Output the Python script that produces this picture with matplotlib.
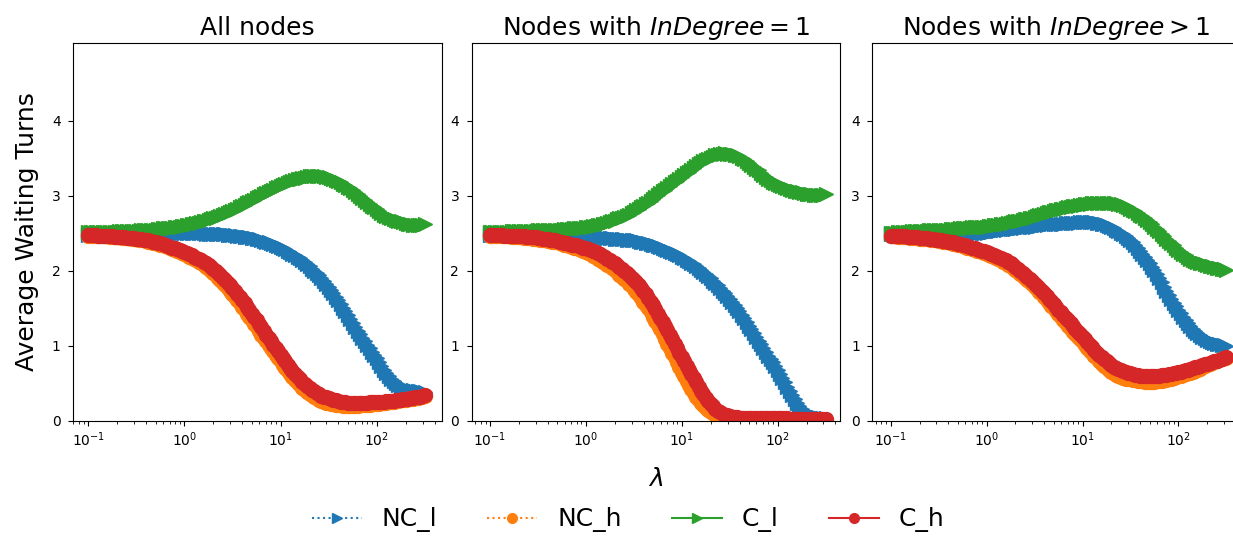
import numpy as np
import matplotlib
matplotlib.use("Agg")
import matplotlib.pyplot as plt
from matplotlib.lines import Line2D

lam = [0.1, 0.106, 0.112, 0.119, 0.126, 0.133, 0.141, 0.150, 0.158, 0.168,
       0.178, 0.188, 0.200, 0.211, 0.224, 0.237, 0.251, 0.266, 0.282, 0.299,
       0.316, 0.335, 0.355, 0.376, 0.398, 0.422, 0.447, 0.473, 0.501, 0.531,
       0.562, 0.596, 0.631, 0.668, 0.708, 0.750, 0.794, 0.841, 0.891, 0.944,
       1.00, 1.06, 1.12, 1.19, 1.26, 1.33, 1.41, 1.50, 1.58, 1.68,
       1.78, 1.88, 2.00, 2.11, 2.24, 2.37, 2.51, 2.66, 2.82, 2.99,
       3.16, 3.35, 3.55, 3.76, 3.98, 4.22, 4.47, 4.73, 5.01, 5.31,
       5.62, 5.96, 6.31, 6.68, 7.08, 7.50, 7.94, 8.41, 8.91, 9.44,
       10.0, 10.6, 11.2, 11.9, 12.6, 13.3, 14.1, 15.0, 15.8, 16.8,
       17.8, 18.8, 20.0, 21.1, 22.4, 23.7, 25.1, 26.6, 28.2, 29.9,
       31.6, 33.5, 35.5, 37.6, 39.8, 42.2, 44.7, 47.3, 50.1, 53.1,
       56.2, 59.6, 63.1, 66.8, 70.8, 75.0, 79.4, 84.1, 89.1, 94.4,
       100, 106, 112, 119, 126, 133, 141, 150, 158, 168,
       178, 188, 200, 211, 224, 237, 251, 266, 282, 299, 316]

titles = ["All nodes", "Nodes with $InDegree = 1$", "Nodes with $InDegree > 1$"]
series_labels = ["NC_l", "NC_h", "C_l", "C_h"]

# ---------------- Panel 1: All nodes ----------------
all_NC_l = [2.48, 2.48, 2.48, 2.48, 2.48, 2.48, 2.48, 2.48, 2.48, 2.48, 2.48, 2.485, 2.49, 2.49, 2.49, 2.49, 2.49, 2.49, 2.49, 2.49,
            2.49, 2.49, 2.49, 2.49, 2.49, 2.495, 2.50, 2.50, 2.50, 2.50, 2.50, 2.50, 2.50, 2.50, 2.50, 2.50, 2.50, 2.50, 2.50, 2.50,
            2.50, 2.50, 2.50, 2.50, 2.50, 2.50, 2.50, 2.50, 2.50, 2.495, 2.49, 2.49, 2.49, 2.49, 2.49, 2.49, 2.49, 2.485, 2.48, 2.48,
            2.48, 2.475, 2.47, 2.465, 2.46, 2.455, 2.45, 2.445, 2.44, 2.435, 2.43, 2.42, 2.41, 2.40, 2.39, 2.38, 2.37, 2.36, 2.35, 2.335,
            2.32, 2.305, 2.29, 2.27, 2.25, 2.23, 2.21, 2.19, 2.17, 2.145, 2.12, 2.09, 2.06, 2.03, 2.00, 1.97, 1.94, 1.905, 1.87, 1.83,
            1.79, 1.745, 1.70, 1.655, 1.61, 1.56, 1.51, 1.46, 1.41, 1.355, 1.30, 1.25, 1.20, 1.155, 1.11, 1.06, 1.01, 0.965, 0.92, 0.875,
            0.83, 0.78, 0.73, 0.68, 0.63, 0.595, 0.56, 0.53, 0.50, 0.475, 0.45, 0.435, 0.42, 0.415, 0.41, 0.405, 0.40, 0.395, 0.39, 0.385,
            0.38]
all_NC_h = [2.47, 2.47, 2.47, 2.47, 2.47, 2.465, 2.46, 2.46, 2.46, 2.455, 2.45, 2.45, 2.45, 2.445, 2.44, 2.44, 2.44, 2.435, 2.43, 2.425,
            2.42, 2.415, 2.41, 2.405, 2.40, 2.39, 2.38, 2.375, 2.37, 2.36, 2.35, 2.34, 2.33, 2.315, 2.30, 2.29, 2.28, 2.265, 2.25, 2.235,
            2.22, 2.205, 2.19, 2.175, 2.16, 2.14, 2.12, 2.10, 2.08, 2.055, 2.03, 2.00, 1.97, 1.94, 1.91, 1.875, 1.84, 1.805, 1.77, 1.73,
            1.69, 1.65, 1.61, 1.565, 1.52, 1.475, 1.43, 1.385, 1.34, 1.295, 1.25, 1.20, 1.15, 1.105, 1.06, 1.015, 0.97, 0.925, 0.88, 0.835,
            0.79, 0.745, 0.70, 0.66, 0.62, 0.58, 0.54, 0.505, 0.47, 0.44, 0.41, 0.385, 0.36, 0.34, 0.32, 0.30, 0.28, 0.265, 0.25, 0.24,
            0.23, 0.225, 0.22, 0.215, 0.21, 0.205, 0.20, 0.20, 0.20, 0.20, 0.20, 0.20, 0.20, 0.205, 0.21, 0.21, 0.21, 0.215, 0.22, 0.22,
            0.22, 0.225, 0.23, 0.235, 0.24, 0.245, 0.25, 0.255, 0.26, 0.265, 0.27, 0.275, 0.28, 0.285, 0.29, 0.295, 0.30, 0.305, 0.31, 0.32,
            0.33]
all_C_l = [2.52, 2.52, 2.52, 2.52, 2.52, 2.52, 2.52, 2.52, 2.52, 2.52, 2.52, 2.52, 2.52, 2.525, 2.53, 2.53, 2.53, 2.53, 2.53, 2.53,
           2.53, 2.535, 2.54, 2.54, 2.54, 2.545, 2.55, 2.55, 2.55, 2.555, 2.56, 2.565, 2.57, 2.57, 2.57, 2.575, 2.58, 2.585, 2.59, 2.595,
           2.60, 2.605, 2.61, 2.62, 2.63, 2.635, 2.64, 2.65, 2.66, 2.67, 2.68, 2.69, 2.70, 2.71, 2.72, 2.735, 2.75, 2.76, 2.77, 2.785,
           2.80, 2.815, 2.83, 2.845, 2.86, 2.88, 2.90, 2.915, 2.93, 2.95, 2.97, 2.985, 3.00, 3.02, 3.04, 3.055, 3.07, 3.085, 3.10, 3.115,
           3.13, 3.145, 3.16, 3.175, 3.19, 3.20, 3.21, 3.22, 3.23, 3.235, 3.24, 3.25, 3.26, 3.265, 3.27, 3.27, 3.27, 3.265, 3.26, 3.255,
           3.25, 3.24, 3.23, 3.215, 3.20, 3.18, 3.16, 3.14, 3.12, 3.10, 3.08, 3.055, 3.03, 3.00, 2.97, 2.945, 2.92, 2.895, 2.87, 2.845,
           2.82, 2.795, 2.77, 2.75, 2.73, 2.715, 2.70, 2.69, 2.68, 2.67, 2.66, 2.65, 2.64, 2.63, 2.62, 2.615, 2.61, 2.61, 2.61, 2.615,
           2.62]
all_C_h = [2.48, 2.48, 2.48, 2.475, 2.47, 2.47, 2.47, 2.465, 2.46, 2.46, 2.46, 2.455, 2.45, 2.45, 2.45, 2.445, 2.44, 2.44, 2.44, 2.435,
           2.43, 2.425, 2.42, 2.415, 2.41, 2.405, 2.40, 2.39, 2.38, 2.375, 2.37, 2.36, 2.35, 2.335, 2.32, 2.31, 2.30, 2.29, 2.28, 2.265,
           2.25, 2.235, 2.22, 2.205, 2.19, 2.175, 2.16, 2.14, 2.12, 2.10, 2.08, 2.055, 2.03, 2.00, 1.97, 1.94, 1.91, 1.875, 1.84, 1.805,
           1.77, 1.73, 1.69, 1.65, 1.61, 1.565, 1.52, 1.475, 1.43, 1.385, 1.34, 1.295, 1.25, 1.20, 1.15, 1.105, 1.06, 1.015, 0.97, 0.925,
           0.88, 0.835, 0.79, 0.745, 0.70, 0.66, 0.62, 0.585, 0.55, 0.52, 0.49, 0.465, 0.44, 0.415, 0.39, 0.37, 0.35, 0.335, 0.32, 0.31,
           0.30, 0.29, 0.28, 0.27, 0.26, 0.255, 0.25, 0.245, 0.24, 0.24, 0.24, 0.24, 0.24, 0.24, 0.24, 0.24, 0.24, 0.245, 0.25, 0.25,
           0.25, 0.25, 0.25, 0.255, 0.26, 0.26, 0.26, 0.265, 0.27, 0.275, 0.28, 0.285, 0.29, 0.295, 0.30, 0.305, 0.31, 0.315, 0.32, 0.33,
           0.34]

# ---------------- Panel 2: InDegree = 1 ----------------
in1_NC_l = [2.48, 2.48, 2.48, 2.48, 2.48, 2.48, 2.48, 2.48, 2.48, 2.48, 2.48, 2.48, 2.48, 2.48, 2.48, 2.48, 2.48, 2.48, 2.48, 2.48,
            2.48, 2.48, 2.48, 2.48, 2.48, 2.475, 2.47, 2.47, 2.47, 2.47, 2.47, 2.47, 2.47, 2.47, 2.47, 2.465, 2.46, 2.46, 2.46, 2.46,
            2.46, 2.46, 2.46, 2.455, 2.45, 2.45, 2.45, 2.445, 2.44, 2.44, 2.44, 2.435, 2.43, 2.43, 2.43, 2.425, 2.42, 2.415, 2.41, 2.41,
            2.41, 2.405, 2.40, 2.39, 2.38, 2.375, 2.37, 2.36, 2.35, 2.34, 2.33, 2.32, 2.31, 2.295, 2.28, 2.265, 2.25, 2.235, 2.22, 2.205,
            2.19, 2.17, 2.15, 2.13, 2.11, 2.085, 2.06, 2.035, 2.01, 1.985, 1.96, 1.93, 1.90, 1.87, 1.84, 1.805, 1.77, 1.735, 1.70, 1.665,
            1.63, 1.59, 1.55, 1.505, 1.46, 1.415, 1.37, 1.32, 1.27, 1.22, 1.17, 1.12, 1.07, 1.02, 0.97, 0.92, 0.87, 0.825, 0.78, 0.73,
            0.68, 0.625, 0.57, 0.51, 0.45, 0.395, 0.34, 0.29, 0.24, 0.20, 0.16, 0.13, 0.10, 0.085, 0.07, 0.06, 0.05, 0.045, 0.04, 0.035,
            0.03]
in1_NC_h = [2.47, 2.47, 2.47, 2.47, 2.47, 2.465, 2.46, 2.46, 2.46, 2.455, 2.45, 2.45, 2.45, 2.445, 2.44, 2.44, 2.44, 2.435, 2.43, 2.425,
            2.42, 2.415, 2.41, 2.405, 2.40, 2.395, 2.39, 2.385, 2.38, 2.37, 2.36, 2.35, 2.34, 2.33, 2.32, 2.31, 2.30, 2.29, 2.28, 2.265,
            2.25, 2.235, 2.22, 2.20, 2.18, 2.16, 2.14, 2.12, 2.10, 2.08, 2.06, 2.035, 2.01, 1.98, 1.95, 1.92, 1.89, 1.86, 1.83, 1.795,
            1.76, 1.72, 1.68, 1.635, 1.59, 1.545, 1.50, 1.445, 1.39, 1.335, 1.28, 1.22, 1.16, 1.095, 1.03, 0.97, 0.91, 0.845, 0.78, 0.715,
            0.65, 0.59, 0.53, 0.475, 0.42, 0.37, 0.32, 0.28, 0.24, 0.205, 0.17, 0.145, 0.12, 0.10, 0.08, 0.065, 0.05, 0.04, 0.03, 0.025,
            0.02, 0.02, 0.02, 0.015, 0.01, 0.01, 0.01, 0.01, 0.01, 0.01, 0.01, 0.01, 0.01, 0.01, 0.01, 0.01, 0.01, 0.01, 0.01, 0.01,
            0.01, 0.01, 0.01, 0.01, 0.01, 0.01, 0.01, 0.01, 0.01, 0.01, 0.01, 0.01, 0.01, 0.01, 0.01, 0.01, 0.01, 0.01, 0.01, 0.01,
            0.01]
in1_C_l = [2.52, 2.52, 2.52, 2.52, 2.52, 2.52, 2.52, 2.52, 2.52, 2.525, 2.53, 2.53, 2.53, 2.53, 2.53, 2.53, 2.53, 2.53, 2.53, 2.535,
           2.54, 2.54, 2.54, 2.54, 2.54, 2.545, 2.55, 2.55, 2.55, 2.55, 2.55, 2.555, 2.56, 2.56, 2.56, 2.565, 2.57, 2.57, 2.57, 2.575,
           2.58, 2.585, 2.59, 2.595, 2.60, 2.605, 2.61, 2.62, 2.63, 2.64, 2.65, 2.66, 2.67, 2.685, 2.70, 2.71, 2.72, 2.735, 2.75, 2.77,
           2.79, 2.81, 2.83, 2.85, 2.87, 2.89, 2.91, 2.935, 2.96, 2.985, 3.01, 3.035, 3.06, 3.085, 3.11, 3.135, 3.16, 3.18, 3.20, 3.225,
           3.25, 3.275, 3.30, 3.325, 3.35, 3.375, 3.40, 3.42, 3.44, 3.46, 3.48, 3.495, 3.51, 3.525, 3.54, 3.55, 3.56, 3.565, 3.57, 3.565,
           3.56, 3.555, 3.55, 3.54, 3.53, 3.51, 3.49, 3.465, 3.44, 3.415, 3.39, 3.365, 3.34, 3.31, 3.28, 3.255, 3.23, 3.21, 3.19, 3.175,
           3.16, 3.145, 3.13, 3.115, 3.10, 3.09, 3.08, 3.07, 3.06, 3.055, 3.05, 3.04, 3.03, 3.025, 3.02, 3.015, 3.01, 3.01, 3.01, 3.015,
           3.02]
in1_C_h = [2.48, 2.48, 2.48, 2.48, 2.48, 2.475, 2.47, 2.47, 2.47, 2.47, 2.47, 2.465, 2.46, 2.46, 2.46, 2.455, 2.45, 2.45, 2.45, 2.445,
           2.44, 2.435, 2.43, 2.425, 2.42, 2.415, 2.41, 2.405, 2.40, 2.39, 2.38, 2.375, 2.37, 2.36, 2.35, 2.345, 2.34, 2.33, 2.32, 2.31,
           2.30, 2.29, 2.28, 2.265, 2.25, 2.235, 2.22, 2.20, 2.18, 2.16, 2.14, 2.12, 2.10, 2.075, 2.05, 2.025, 2.00, 1.97, 1.94, 1.91,
           1.88, 1.845, 1.81, 1.77, 1.73, 1.685, 1.64, 1.59, 1.54, 1.485, 1.43, 1.375, 1.32, 1.265, 1.21, 1.15, 1.09, 1.03, 0.97, 0.91,
           0.85, 0.79, 0.73, 0.675, 0.62, 0.565, 0.51, 0.455, 0.40, 0.35, 0.30, 0.26, 0.22, 0.19, 0.16, 0.135, 0.11, 0.095, 0.08, 0.07,
           0.06, 0.055, 0.05, 0.045, 0.04, 0.04, 0.04, 0.035, 0.03, 0.03, 0.03, 0.03, 0.03, 0.03, 0.03, 0.03, 0.03, 0.03, 0.03, 0.03,
           0.03, 0.03, 0.03, 0.03, 0.03, 0.025, 0.02, 0.02, 0.02, 0.02, 0.02, 0.02, 0.02, 0.02, 0.02, 0.02, 0.02, 0.02, 0.02, 0.02,
           0.02]

# ---------------- Panel 3: InDegree > 1 ----------------
gt1_NC_l = [2.49, 2.49, 2.49, 2.49, 2.49, 2.49, 2.49, 2.49, 2.49, 2.49, 2.49, 2.49, 2.49, 2.49, 2.49, 2.49, 2.49, 2.49, 2.49, 2.49,
            2.49, 2.49, 2.49, 2.495, 2.50, 2.50, 2.50, 2.50, 2.50, 2.50, 2.50, 2.50, 2.50, 2.50, 2.50, 2.505, 2.51, 2.51, 2.51, 2.51,
            2.51, 2.515, 2.52, 2.525, 2.53, 2.535, 2.54, 2.545, 2.55, 2.555, 2.56, 2.56, 2.56, 2.565, 2.57, 2.575, 2.58, 2.58, 2.58, 2.585,
            2.59, 2.595, 2.60, 2.605, 2.61, 2.615, 2.62, 2.62, 2.62, 2.625, 2.63, 2.63, 2.63, 2.635, 2.64, 2.64, 2.64, 2.64, 2.64, 2.645,
            2.65, 2.65, 2.65, 2.65, 2.65, 2.645, 2.64, 2.635, 2.63, 2.62, 2.61, 2.595, 2.58, 2.565, 2.55, 2.53, 2.51, 2.485, 2.46, 2.435,
            2.41, 2.38, 2.35, 2.31, 2.27, 2.23, 2.19, 2.145, 2.10, 2.055, 2.01, 1.955, 1.90, 1.845, 1.79, 1.735, 1.68, 1.625, 1.57, 1.525,
            1.48, 1.435, 1.39, 1.345, 1.30, 1.265, 1.23, 1.20, 1.17, 1.145, 1.12, 1.10, 1.08, 1.065, 1.05, 1.04, 1.03, 1.02, 1.01, 1.005,
            1.00]
gt1_NC_h = [2.46, 2.46, 2.46, 2.455, 2.45, 2.45, 2.45, 2.445, 2.44, 2.44, 2.44, 2.435, 2.43, 2.43, 2.43, 2.425, 2.42, 2.415, 2.41, 2.405,
            2.40, 2.395, 2.39, 2.385, 2.38, 2.37, 2.36, 2.355, 2.35, 2.34, 2.33, 2.32, 2.31, 2.30, 2.29, 2.28, 2.27, 2.26, 2.25, 2.24,
            2.23, 2.215, 2.20, 2.185, 2.17, 2.155, 2.14, 2.12, 2.10, 2.08, 2.06, 2.035, 2.01, 1.985, 1.96, 1.935, 1.91, 1.88, 1.85, 1.82,
            1.79, 1.755, 1.72, 1.685, 1.65, 1.61, 1.57, 1.535, 1.50, 1.46, 1.42, 1.38, 1.34, 1.305, 1.27, 1.23, 1.19, 1.155, 1.12, 1.085,
            1.05, 1.01, 0.97, 0.935, 0.90, 0.865, 0.83, 0.795, 0.76, 0.73, 0.70, 0.675, 0.65, 0.63, 0.61, 0.595, 0.58, 0.57, 0.56, 0.555,
            0.55, 0.545, 0.54, 0.535, 0.53, 0.525, 0.52, 0.52, 0.52, 0.52, 0.52, 0.525, 0.53, 0.535, 0.54, 0.545, 0.55, 0.56, 0.57, 0.58,
            0.59, 0.60, 0.61, 0.62, 0.63, 0.64, 0.65, 0.665, 0.68, 0.695, 0.71, 0.725, 0.74, 0.755, 0.77, 0.785, 0.80, 0.81, 0.82, 0.83,
            0.84]
gt1_C_l = [2.51, 2.51, 2.51, 2.515, 2.52, 2.52, 2.52, 2.52, 2.52, 2.525, 2.53, 2.53, 2.53, 2.53, 2.53, 2.535, 2.54, 2.54, 2.54, 2.54,
           2.54, 2.545, 2.55, 2.55, 2.55, 2.555, 2.56, 2.56, 2.56, 2.565, 2.57, 2.57, 2.57, 2.575, 2.58, 2.58, 2.58, 2.585, 2.59, 2.59,
           2.59, 2.595, 2.60, 2.605, 2.61, 2.615, 2.62, 2.625, 2.63, 2.635, 2.64, 2.65, 2.66, 2.665, 2.67, 2.68, 2.69, 2.695, 2.70, 2.71,
           2.72, 2.73, 2.74, 2.75, 2.76, 2.77, 2.78, 2.79, 2.80, 2.805, 2.81, 2.82, 2.83, 2.84, 2.85, 2.855, 2.86, 2.865, 2.87, 2.875,
           2.88, 2.885, 2.89, 2.895, 2.90, 2.905, 2.91, 2.91, 2.91, 2.91, 2.91, 2.91, 2.91, 2.905, 2.90, 2.895, 2.89, 2.875, 2.86, 2.845,
           2.83, 2.815, 2.80, 2.775, 2.75, 2.725, 2.70, 2.675, 2.65, 2.62, 2.59, 2.56, 2.53, 2.495, 2.46, 2.43, 2.40, 2.37, 2.34, 2.31,
           2.28, 2.255, 2.23, 2.205, 2.18, 2.16, 2.14, 2.13, 2.12, 2.11, 2.10, 2.09, 2.08, 2.07, 2.06, 2.05, 2.04, 2.035, 2.03, 2.02,
           2.01]
gt1_C_h = [2.47, 2.47, 2.47, 2.465, 2.46, 2.46, 2.46, 2.455, 2.45, 2.45, 2.45, 2.445, 2.44, 2.44, 2.44, 2.435, 2.43, 2.425, 2.42, 2.415,
           2.41, 2.405, 2.40, 2.395, 2.39, 2.385, 2.38, 2.37, 2.36, 2.355, 2.35, 2.34, 2.33, 2.32, 2.31, 2.30, 2.29, 2.28, 2.27, 2.26,
           2.25, 2.24, 2.23, 2.215, 2.20, 2.185, 2.17, 2.155, 2.14, 2.12, 2.10, 2.075, 2.05, 2.025, 2.00, 1.975, 1.95, 1.92, 1.89, 1.86,
           1.83, 1.80, 1.77, 1.735, 1.70, 1.665, 1.63, 1.595, 1.56, 1.52, 1.48, 1.445, 1.41, 1.375, 1.34, 1.30, 1.26, 1.225, 1.19, 1.155,
           1.12, 1.085, 1.05, 1.015, 0.98, 0.945, 0.91, 0.88, 0.85, 0.82, 0.79, 0.765, 0.74, 0.72, 0.70, 0.685, 0.67, 0.66, 0.65, 0.64,
           0.63, 0.62, 0.61, 0.605, 0.60, 0.595, 0.59, 0.59, 0.59, 0.59, 0.59, 0.595, 0.60, 0.605, 0.61, 0.615, 0.62, 0.625, 0.63, 0.64,
           0.65, 0.655, 0.66, 0.67, 0.68, 0.69, 0.70, 0.71, 0.72, 0.73, 0.74, 0.75, 0.76, 0.77, 0.78, 0.79, 0.80, 0.81, 0.82, 0.835,
           0.85]

yticks = [0, 1, 2, 3, 4]

panels = [
    (all_NC_l, all_NC_h, all_C_l, all_C_h),
    (in1_NC_l, in1_NC_h, in1_C_l, in1_C_h),
    (gt1_NC_l, gt1_NC_h, gt1_C_l, gt1_C_h),
]

colors = ["#1f77b4", "#ff7f0e", "#2ca02c", "#d62728"]
markers = [">", "o", ">", "o"]
linestyles = [":", ":", "-", "-"]

W, H = 1233, 536
fig = plt.figure(figsize=(W / 100, H / 100), dpi=100)

ax_left_px = [73.3, 471.7, 872.4]
ax_w_px = 368.4
ax_bottom_px = 420.7
ax_top_px = 43
xlims = [(0.0698, 474), (0.0645, 447), (0.0645, 447)]

axes = []
for i, (data, title) in enumerate(zip(panels, titles)):
    ax = fig.add_axes([ax_left_px[i] / W, (H - ax_bottom_px) / H,
                       ax_w_px / W, (ax_bottom_px - ax_top_px) / H])
    for y, c, m, ls, lab in zip(data, colors, markers, linestyles, series_labels):
        ax.plot(lam, y, color=c, marker=m, linestyle=ls, markersize=10,
                linewidth=1.5, label=lab)
    ax.set_xscale("log")
    ax.set_xlim(*xlims[i])
    ax.set_ylim(0, 5.04)
    ax.set_yticks(yticks)
    ax.tick_params(axis="y", pad=5.5)
    ax.set_title(title, fontsize=18)
    axes.append(ax)

axes[0].set_ylabel("Average Waiting Turns", fontsize=18, labelpad=9)
axes[1].set_xlabel("$\\lambda$", fontsize=18, labelpad=13)

handles = [Line2D([], [], color=c, marker=m, linestyle=ls, markersize=7, linewidth=1.5)
           for c, m, ls in zip(colors, markers, linestyles)]
fig.legend(handles, series_labels, loc="center", bbox_to_anchor=(628 / W, 16 / H),
           ncol=4, frameon=False, fontsize=18)

fig.savefig("out.png", dpi=100)
